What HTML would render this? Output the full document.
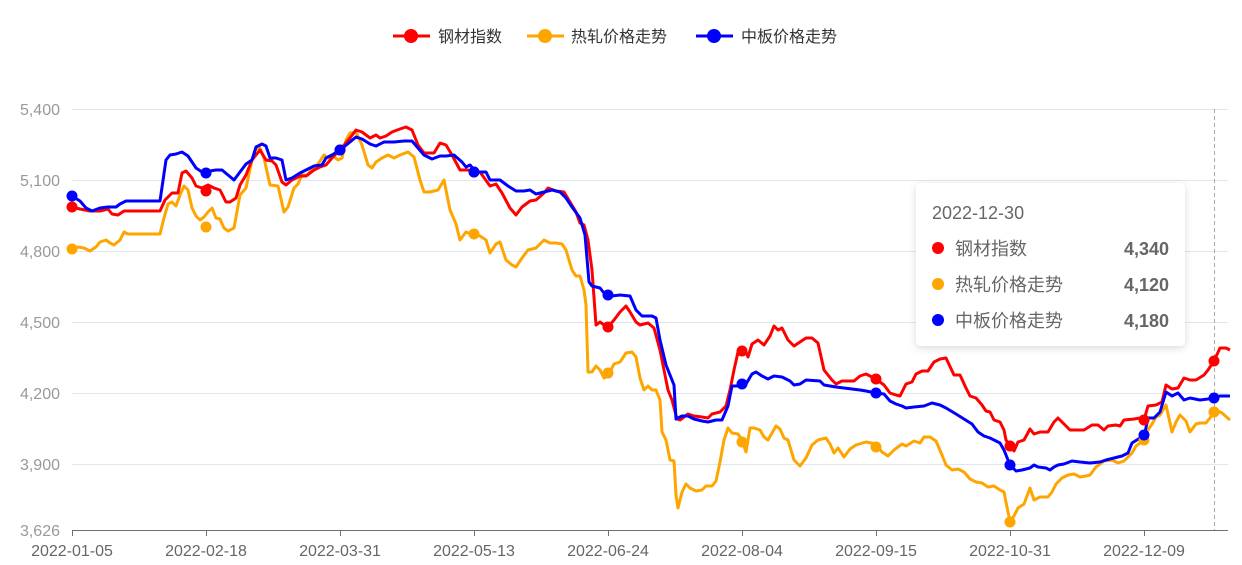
<!DOCTYPE html>
<html><head><meta charset="utf-8"><style>
html,body{margin:0;padding:0;background:#fff;}
svg{display:block;font-family:"Liberation Sans","Noto Sans CJK SC",sans-serif;}
</style></head><body>
<svg width="1242" height="565" viewBox="0 0 1242 565" xmlns="http://www.w3.org/2000/svg">
<g stroke="#e0e6f1" stroke-width="1">
<line x1="72" y1="109.5" x2="1228" y2="109.5"/>
<line x1="72" y1="180.5" x2="1228" y2="180.5"/>
<line x1="72" y1="251.5" x2="1228" y2="251.5"/>
<line x1="72" y1="322.5" x2="1228" y2="322.5"/>
<line x1="72" y1="393.5" x2="1228" y2="393.5"/>
<line x1="72" y1="464.5" x2="1228" y2="464.5"/>
</g>
<g fill="#999" font-size="16" text-anchor="end">
<text x="60" y="115">5,400</text>
<text x="60" y="186">5,100</text>
<text x="60" y="257">4,800</text>
<text x="60" y="328">4,500</text>
<text x="60" y="399">4,200</text>
<text x="60" y="470">3,900</text>
<text x="60" y="536">3,626</text>
</g>
<line x1="72" y1="530.5" x2="1228" y2="530.5" stroke="#6e7079" stroke-width="1"/>
<g stroke="#6e7079"><line x1="72.5" y1="530" x2="72.5" y2="536"/><line x1="206.5" y1="530" x2="206.5" y2="536"/><line x1="340.5" y1="530" x2="340.5" y2="536"/><line x1="474.5" y1="530" x2="474.5" y2="536"/><line x1="608.5" y1="530" x2="608.5" y2="536"/><line x1="742.5" y1="530" x2="742.5" y2="536"/><line x1="876.5" y1="530" x2="876.5" y2="536"/><line x1="1010.5" y1="530" x2="1010.5" y2="536"/><line x1="1144.5" y1="530" x2="1144.5" y2="536"/></g>
<g fill="#666" font-size="16" text-anchor="middle">
<text x="72" y="556">2022-01-05</text><text x="206" y="556">2022-02-18</text><text x="340" y="556">2022-03-31</text><text x="474" y="556">2022-05-13</text><text x="608" y="556">2022-06-24</text><text x="742" y="556">2022-08-04</text><text x="876" y="556">2022-09-15</text><text x="1010" y="556">2022-10-31</text><text x="1144" y="556">2022-12-09</text>
</g>
<line x1="1214.5" y1="109" x2="1214.5" y2="530" stroke="#aaa" stroke-dasharray="4,3"/>
<g fill="none" stroke-width="3" stroke-linejoin="round">
<polyline stroke="#ffa500" points="72,249 78,247 84,248 90,251 96,247 100,242 106,240 110,243 114,245 120,240 124,232 128,234 160,234 164,218 168,204 172,202 176,206 180,195 184,186 188,190 192,208 196,216 200,220 204,217 208,212 212,208 216,218 220,219 224,228 228,231 234,228 240,195 246,188 252,160 256,149 260,148 264,158 270,185 278,186 284,212 288,207 294,188 298,184 302,175 308,175 312,168 318,164 324,155 328,158 332,155 338,160 342,158 346,140 350,133 356,132 362,145 368,165 372,168 376,162 382,158 388,155 394,158 400,155 408,152 414,157 420,180 424,192 430,192 438,190 444,180 450,210 456,224 460,240 466,232 474,235 480,236 486,240 490,253 496,244 500,242 506,260 512,265 516,267 522,258 528,250 536,248 544,240 550,243 556,243 562,244 566,250 572,270 576,276 580,276 584,290 586,305 588,372 592,372 596,366 600,370 604,378 608,376 614,364 620,362 626,353 632,352 636,357 640,378 644,390 648,386 652,390 656,390 660,400 662,432 666,440 670,460 674,461 676,495 678,508 682,492 686,484 690,488 696,491 702,490 706,486 712,486 716,481 720,462 724,440 728,428 732,433 738,434 742,440 746,452 750,428 754,428 760,430 764,437 768,440 776,426 780,429 784,438 788,440 794,460 800,466 806,458 812,445 818,440 826,438 830,444 834,453 838,448 844,457 850,449 856,445 866,442 876,444 882,452 888,456 894,450 902,444 906,446 914,441 920,443 924,437 930,437 936,441 942,455 946,465 952,470 958,469 964,472 970,479 976,482 982,483 988,487 994,486 1000,490 1004,492 1008,512 1010,521 1014,516 1018,508 1024,504 1030,488 1034,500 1040,497 1048,497 1052,492 1056,484 1062,478 1068,475 1074,474 1080,477 1086,476 1090,475 1096,467 1104,461 1112,460 1118,463 1124,461 1132,453 1136,446 1140,443 1144,440 1148,430 1152,424 1156,417 1160,415 1166,405 1172,432 1176,422 1180,415 1186,421 1190,432 1196,424 1200,423 1206,423 1210,418 1214,412 1218,411 1222,413 1230,420"/>
<polyline stroke="#ff0000" points="72,207 80,209 90,211 100,211 108,209 112,214 118,215 124,211 160,211 165,200 172,193 178,193 182,173 186,171 192,178 196,186 202,188 208,185 214,188 220,190 226,202 230,202 236,198 240,185 246,175 252,160 260,150 266,160 272,161 276,165 282,182 286,185 292,180 300,176 306,176 314,170 320,167 326,165 332,158 340,150 350,138 356,130 362,132 370,138 376,135 380,138 386,136 392,132 400,129 406,127 412,130 418,145 424,153 434,153 440,143 446,145 452,155 460,170 468,170 474,172 480,172 490,186 496,184 502,193 510,208 516,215 522,207 530,201 536,200 544,193 548,188 556,191 564,192 570,202 576,212 580,223 584,225 588,240 592,270 596,325 600,322 604,325 608,327 614,320 620,312 626,306 630,312 636,322 640,325 648,323 654,328 660,350 664,370 668,390 672,400 677,419 680,420 688,414 694,416 702,417 708,418 712,414 720,412 726,406 730,390 734,370 738,352 742,350 746,352 748,357 752,344 758,340 764,345 770,336 774,326 778,330 782,328 788,340 794,346 800,342 806,338 812,338 818,343 824,370 828,375 832,380 836,384 842,381 854,381 860,376 866,374 876,379 884,385 890,393 896,395 900,396 906,384 912,382 916,374 922,371 928,371 934,362 940,359 946,358 954,375 960,375 966,388 970,396 976,398 982,405 986,411 990,412 994,420 1000,422 1004,430 1006,440 1010,446 1014,451 1018,442 1024,440 1030,429 1034,434 1040,432 1048,432 1054,422 1058,418 1064,424 1070,430 1084,430 1092,425 1098,425 1104,430 1108,426 1116,425 1120,426 1124,420 1134,419 1140,418 1144,420 1148,406 1156,405 1162,402 1166,385 1172,389 1178,388 1184,378 1190,380 1196,380 1204,375 1208,370 1214,361 1220,348 1226,348 1230,350"/>
<polyline stroke="#0000ff" points="72,196 80,201 86,208 92,211 100,208 108,207 116,207 120,204 126,201 132,201 160,201 166,160 170,155 176,154 182,152 188,156 196,168 202,172 206,173 210,171 216,170 222,170 228,175 234,180 240,172 246,164 252,160 256,147 262,144 266,146 270,158 276,158 282,160 286,180 292,178 300,173 306,170 314,166 322,165 326,158 332,155 340,150 350,142 356,137 362,139 370,144 376,146 384,142 394,142 404,141 412,141 418,148 424,155 432,159 440,156 446,156 454,155 462,162 466,167 470,165 476,172 486,172 490,180 500,180 508,186 516,191 524,191 530,190 536,194 544,192 552,190 560,192 566,198 572,207 580,218 585,235 589,282 592,286 596,287 600,288 604,293 608,295 612,296 620,295 630,296 636,310 642,316 652,316 656,318 660,340 666,365 674,385 676,419 682,416 688,416 694,419 702,421 708,422 716,420 722,420 728,406 732,386 740,386 746,384 752,374 756,372 762,376 768,379 774,376 782,377 790,381 794,385 800,384 806,380 820,381 824,385 830,386 836,387 844,388 852,389 860,390 866,391 876,393 884,394 890,401 896,404 902,406 906,408 914,407 924,406 932,403 940,405 946,408 956,414 964,419 972,424 978,432 984,436 990,438 996,441 1000,443 1004,450 1010,465 1016,471 1022,470 1030,468 1034,465 1038,467 1046,468 1050,470 1054,467 1058,465 1064,464 1072,461 1080,462 1090,463 1100,462 1106,460 1114,458 1122,456 1128,453 1132,443 1140,438 1144,437 1148,418 1154,418 1160,412 1166,392 1172,396 1178,393 1184,400 1190,398 1200,400 1208,399 1214,398 1220,396 1230,396"/>
</g>
<g fill="#ffa500"><circle cx="72" cy="249" r="5.5"/><circle cx="206" cy="227" r="5.5"/><circle cx="340" cy="150" r="5.5"/><circle cx="474" cy="234" r="5.5"/><circle cx="608" cy="373" r="5.5"/><circle cx="742" cy="442" r="5.5"/><circle cx="876" cy="447" r="5.5"/><circle cx="1010" cy="522" r="5.5"/><circle cx="1144" cy="440" r="5.5"/><circle cx="1214" cy="412" r="5.5"/></g>
<g fill="#ff0000"><circle cx="72" cy="207" r="5.5"/><circle cx="206" cy="191" r="5.5"/><circle cx="340" cy="150" r="5.5"/><circle cx="474" cy="172" r="5.5"/><circle cx="608" cy="327" r="5.5"/><circle cx="742" cy="351" r="5.5"/><circle cx="876" cy="379" r="5.5"/><circle cx="1010" cy="446" r="5.5"/><circle cx="1144" cy="420" r="5.5"/><circle cx="1214" cy="361" r="5.5"/></g>
<g fill="#0000ff"><circle cx="72" cy="196" r="5.5"/><circle cx="206" cy="173" r="5.5"/><circle cx="340" cy="150" r="5.5"/><circle cx="474" cy="172" r="5.5"/><circle cx="608" cy="295" r="5.5"/><circle cx="742" cy="384" r="5.5"/><circle cx="876" cy="393" r="5.5"/><circle cx="1010" cy="465" r="5.5"/><circle cx="1144" cy="435" r="5.5"/><circle cx="1214" cy="398" r="5.5"/></g>
<g font-size="16" fill="#333">
<line x1="393" y1="36" x2="430" y2="36" stroke="#ff0000" stroke-width="3"/><circle cx="411" cy="36" r="7" fill="#ff0000"/><text x="438" y="42">钢材指数</text>
<line x1="527" y1="36" x2="564" y2="36" stroke="#ffa500" stroke-width="3"/><circle cx="545" cy="36" r="7" fill="#ffa500"/><text x="571" y="42">热轧价格走势</text>
<line x1="696" y1="36" x2="733" y2="36" stroke="#0000ff" stroke-width="3"/><circle cx="714" cy="36" r="7" fill="#0000ff"/><text x="741" y="42">中板价格走势</text>
</g>
<defs><filter id="sh" x="-10%" y="-10%" width="120%" height="130%"><feDropShadow dx="0" dy="2" stdDeviation="4" flood-color="#000" flood-opacity="0.15"/></filter></defs>
<rect x="916" y="183" width="269" height="163" rx="5" fill="#fff" filter="url(#sh)"/>
<g font-size="18">
<text x="932" y="219" fill="#666">2022-12-30</text>
<circle cx="938" cy="248" r="6" fill="#ff0000"/><text x="955" y="255" fill="#666">钢材指数</text><text x="1169" y="255" text-anchor="end" font-weight="bold" fill="#666">4,340</text>
<circle cx="938" cy="284" r="6" fill="#ffa500"/><text x="955" y="291" fill="#666">热轧价格走势</text><text x="1169" y="291" text-anchor="end" font-weight="bold" fill="#666">4,120</text>
<circle cx="938" cy="320" r="6" fill="#0000ff"/><text x="955" y="327" fill="#666">中板价格走势</text><text x="1169" y="327" text-anchor="end" font-weight="bold" fill="#666">4,180</text>
</g>
</svg>
</body></html>
